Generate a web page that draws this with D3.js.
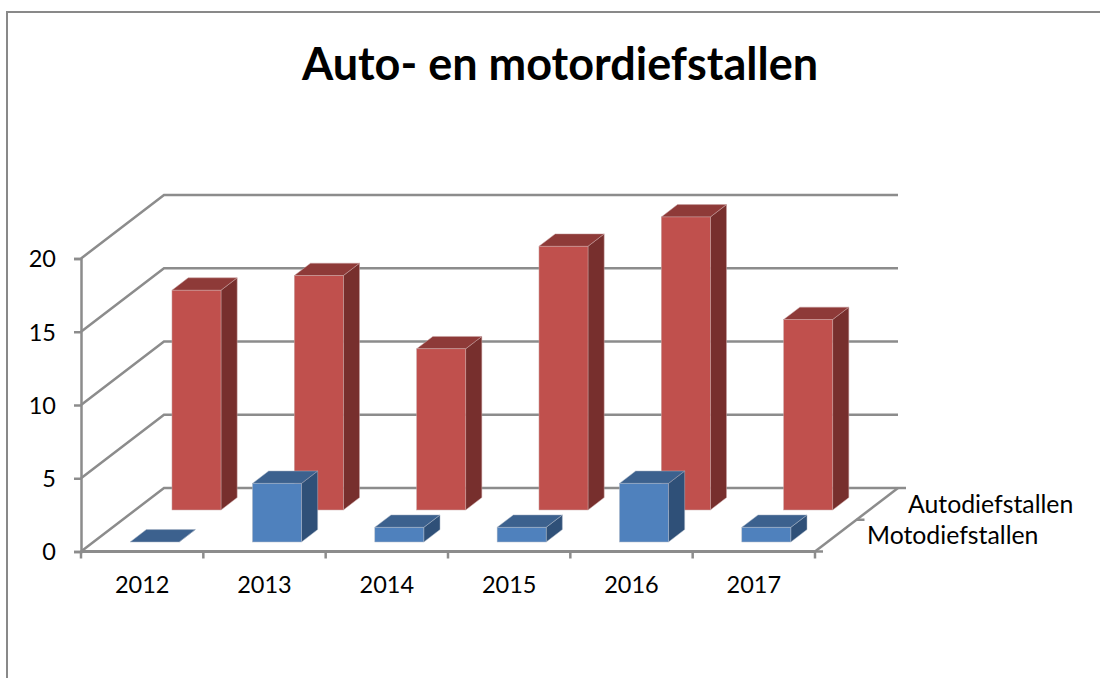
<!DOCTYPE html>
<html>
<head>
<meta charset="utf-8">
<script src="https://cdn.jsdelivr.net/npm/d3@7"></script>
<style>
html,body{margin:0;padding:0;background:#fff;}
svg{display:block;}
text{font-family:Lato,"Open Sans",sans-serif;fill:#000;}
</style>
</head>
<body>
<svg id="chart" width="1100" height="678"></svg>
<script>
const chartTitle = "Auto- en motordiefstallen";
const categories = ["2012","2013","2014","2015","2016","2017"];
const seriesNames = ["Motodiefstallen","Autodiefstallen"];
const motoValues = [0,4,1,1,4,1];
const autoValues = [15,16,11,18,20,13];
const yTicks = [0,5,10,15,20];

const svg = d3.select("#chart");
const gray = "#8c8c8c";
const depthX = 83, depthY = 63.5, barDepth = 0.195;

const x = d3.scaleBand().domain(categories).range([81,815]);
const y = d3.scaleLinear().domain([0,20]).range([551.5,258.5]);
const z = d3.scaleOrdinal().domain(seriesNames).range([0.15,0.654]);
const barWidth = 49;
const inset = 36.7;

// chart frame
svg.append("path").attr("d","M7,678V12H1100").attr("fill","none").attr("stroke","#898989").attr("stroke-width",2);

// title
svg.append("text").attr("x",560).attr("y",80).attr("text-anchor","middle")
  .attr("font-size",45).attr("font-weight",700).text(chartTitle);

// walls: back gridlines with their side-wall segments
const left = x.range()[0], right = x.range()[1];
svg.append("g").selectAll("path").data(yTicks).join("path")
  .attr("fill","none").attr("stroke",gray).attr("stroke-width",2.5)
  .attr("d",v=>{const p=d3.path();p.moveTo(left,y(v));p.lineTo(left+depthX,y(v)-depthY);p.lineTo(right+depthX,y(v)-depthY);return p;});

// y axis
const yAxis = d3.axisLeft(y).tickValues(yTicks).tickSize(7).tickPadding(18);
const yG = svg.append("g").attr("transform",`translate(${left},0)`).call(yAxis);
yG.select(".domain").attr("stroke",gray).attr("stroke-width",2.5);
yG.selectAll(".tick line").attr("stroke",gray).attr("stroke-width",2.5);
yG.selectAll("text").attr("font-size",23.5).attr("font-family","Lato").attr("fill","#000").attr("dy","0.36em");

// depth axis
const baseY = y(0);
svg.append("line").attr("x1",right).attr("y1",baseY).attr("x2",right+depthX).attr("y2",baseY-depthY)
  .attr("stroke",gray).attr("stroke-width",2.5);
const depthTicks = [0,0.5,1];
svg.append("g").selectAll("line").data(depthTicks).join("line")
  .attr("x1",t=>right+depthX*t).attr("x2",t=>right+depthX*t+8)
  .attr("y1",t=>baseY-depthY*t).attr("y2",t=>baseY-depthY*t)
  .attr("stroke",gray).attr("stroke-width",2.5);

// category axis
svg.append("line").attr("x1",left).attr("x2",right).attr("y1",baseY).attr("y2",baseY)
  .attr("stroke",gray).attr("stroke-width",2.8);
const edges = categories.map(c=>x(c)).concat([right]);
svg.append("g").selectAll("line").data(edges).join("line")
  .attr("x1",d=>d).attr("x2",d=>d).attr("y1",baseY).attr("y2",baseY+7)
  .attr("stroke",gray).attr("stroke-width",2.5);
const xAxis = d3.axisBottom(x).tickSize(0).tickPadding(25);
const xG = svg.append("g").attr("transform",`translate(0,${baseY})`).call(xAxis);
xG.select(".domain").remove();
xG.selectAll("text").attr("font-size",23.5).attr("font-family","Lato").attr("fill","#000");

// bars
function drawBars(name, values, colors){
  const zv = z(name);
  const g = svg.append("g");
  values.forEach((v,i)=>{
    const cat = categories[i];
    const x0 = x(cat)+inset+depthX*zv, x1 = x0+barWidth;
    const yb = y(0)-depthY*zv, yt = y(v)-depthY*zv;
    const dx = depthX*barDepth, dy = depthY*barDepth;
    const b = g.append("g");
    const edge = colors.edge;
    // side
    b.append("path").attr("d",`M${x1},${yt}L${x1+dx},${yt-dy}L${x1+dx},${yb-dy}L${x1},${yb}Z`)
      .attr("fill",colors.side).attr("stroke",edge).attr("stroke-width",0.5);
    // top
    b.append("path").attr("d",`M${x0},${yt}L${x0+dx},${yt-dy}L${x1+dx},${yt-dy}L${x1},${yt}Z`)
      .attr("fill",colors.top).attr("stroke",edge).attr("stroke-width",0.5);
    // front
    if(v>0) b.append("rect").attr("x",x0).attr("y",yt).attr("width",barWidth).attr("height",yb-yt)
      .attr("fill",colors.front).attr("stroke",edge).attr("stroke-width",0.5);
  });
}
drawBars("Autodiefstallen",autoValues,{front:"#C0504D",top:"#8E3A38",side:"#772F2D",edge:"#c9a3a2"});
drawBars("Motodiefstallen",motoValues,{front:"#4F81BD",top:"#3C618E",side:"#2F5078",edge:"#a9b4c4"});

// depth labels
svg.append("g").selectAll("text").data([
  {t:seriesNames[1],x:908,y:513},
  {t:seriesNames[0],x:867,y:544}
]).join("text").attr("x",d=>d.x).attr("y",d=>d.y).attr("font-size",24.8).text(d=>d.t);
</script>
</body>
</html>
